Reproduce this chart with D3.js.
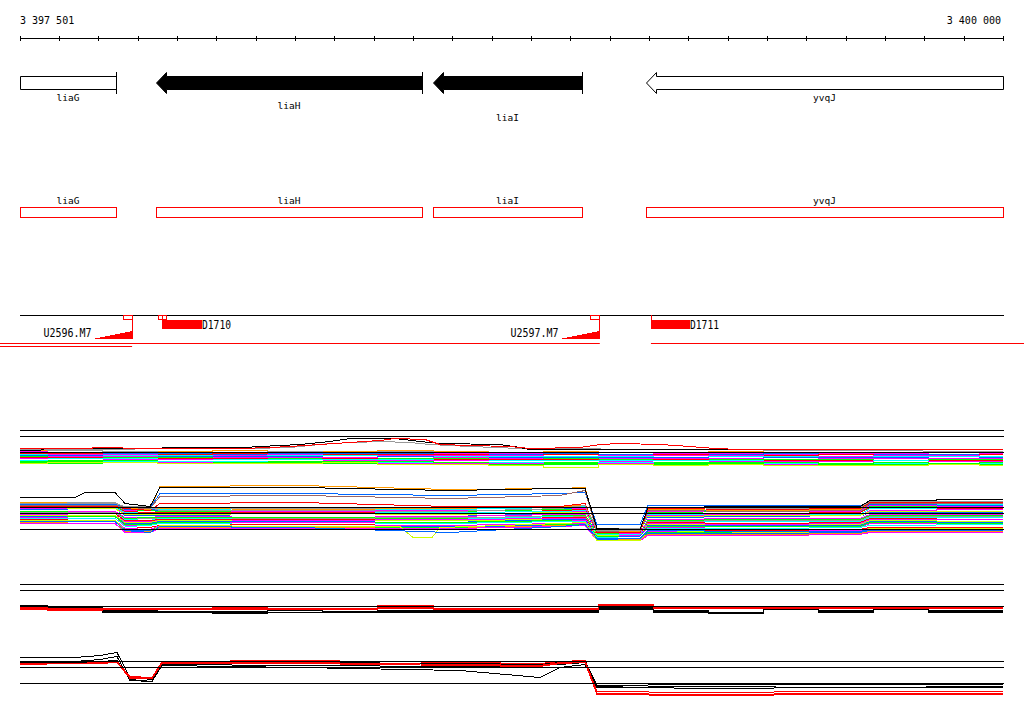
<!DOCTYPE html>
<html><head><meta charset="utf-8">
<script src="https://cdn.jsdelivr.net/npm/d3@7"></script>
<style>
body{margin:0;background:#fff}
svg{display:block}
text{font-family:"DejaVu Sans Mono",monospace;fill:#000}
</style>
</head><body>
<svg id="c" width="1024" height="714"></svg>
<script>
// ---------- data ----------
const START = 3397501, END = 3400000;
const axisLabels = [3397501, 3400000];
const tickStep = 100;

const genes      = ["liaG", "liaH", "liaI", "yvqJ"];
const geneLeft   = [3397040, 3397847, 3398551, 3399092];
const geneRight  = [3397745, 3398523, 3398930, 3400420];
const geneFilled = [false, true, true, false];

const upMarkers  = ["U2596.M7", "U2597.M7"];
const upPos      = [3397786, 3398973];
const dnMarkers  = ["D1710", "D1711"];
const dnStart    = [3397862, 3399105];
const dnEnd      = [3397964, 3399204];
const probeStart = [3397763, 3397852, 3397862, 3398950];
const probeEnd   = [3397786, 3397862, 3397872, 3398973];
const redSegStart = [3397450, 3399105, 3397450];
const redSegEnd   = [3398975, 3400055, 3397786];
const redSegRow   = [0, 0, 1];

const refLevels = [2.25, 1.6, 0];

// track A1 (upper profiles, panel 1)
const a1Pos = [3397501,3397641,3397781,3397921,3398061,3398201,3398341,3398481,3398621,3398761,3398901,3399041,3399181,3399321,3399461,3399601,3399741,3399881,3400000];
const a1Colors = ['#ff9900','#999999','#ff00ff','#0066ff','#ff0000','#ff00ff','#00ffff','#0066ff','#ff00ff','#00ff00','#ff0000','#00ffff','#ff00ff','#ffffff','#00ff00','#00ffff','#00ff00','#ff00ff','#00ff00','#ccff00'];
const a1Rows = [
 [.2,.2,.1,.1,.2,.1,.1,.2,.1,0,.1,0,0,.1,0,0,-.1,0,0],
 [.1,.2,.1,0,0,.1,0,.1,0,0,-.1,0,-.1,0,0,-.1,0,0,-.1],
 [.1,0,0,-.1,0,0,-.1,0,-.1,-.1,-.1,-.2,-.1,-.1,-.2,-.1,-.1,-.2,-.1],
 [0,-.1,-.1,-.1,-.2,-.1,-.1,-.1,-.2,-.2,-.1,-.2,-.2,-.2,-.1,-.2,-.2,-.2,-.2],
 [-.1,-.1,-.2,-.2,-.1,-.2,-.2,-.2,-.2,-.3,-.2,-.3,-.2,-.3,-.3,-.2,-.3,-.3,-.2],
 [-.2,-.2,-.2,-.3,-.3,-.2,-.3,-.3,-.3,-.3,-.4,-.3,-.3,-.3,-.4,-.4,-.3,-.3,-.4],
 [-.2,-.3,-.3,-.3,-.4,-.3,-.3,-.4,-.4,-.4,-.4,-.4,-.5,-.4,-.4,-.5,-.4,-.4,-.4],
 [-.3,-.3,-.4,-.4,-.4,-.4,-.5,-.4,-.5,-.5,-.5,-.5,-.5,-.6,-.5,-.5,-.5,-.6,-.5],
 [-.4,-.4,-.4,-.5,-.5,-.5,-.5,-.6,-.5,-.6,-.6,-.6,-.6,-.6,-.7,-.6,-.6,-.6,-.6],
 [-.4,-.5,-.5,-.5,-.6,-.6,-.6,-.6,-.6,-.7,-.6,-.7,-.7,-.7,-.7,-.7,-.8,-.7,-.7],
 [-.5,-.5,-.6,-.6,-.6,-.7,-.6,-.7,-.7,-.7,-.7,-.8,-.7,-.8,-.8,-.8,-.8,-.8,-.8],
 [-.6,-.6,-.6,-.7,-.7,-.7,-.7,-.7,-.8,-.8,-.8,-.8,-.8,-.8,-.9,-.9,-.8,-.9,-.9],
 [-.6,-.7,-.7,-.7,-.8,-.8,-.8,-.8,-.8,-.9,-.9,-.9,-.9,-.9,-.9,-.9,-1,-.9,-.9],
 [-.7,-.7,-.8,-.8,-.8,-.8,-.9,-.9,-.9,-.9,-.9,-1,-.9,-1,-1,-1,-1,-1,-1],
 [-.8,-.8,-.8,-.9,-.9,-.9,-.9,-.9,-1,-1,-1,-1,-1,-1,-1,-1.1,-1,-1.1,-1],
 [-.8,-.9,-.9,-.9,-.9,-1,-1,-1,-1,-1,-1.1,-1,-1.1,-1.1,-1.1,-1.1,-1.1,-1.1,-1.1],
 [-.9,-.9,-1,-1,-1,-1,-1,-1.1,-1,-1.1,-1.1,-1.1,-1.1,-1.1,-1.2,-1.1,-1.2,-1.1,-1.2],
 [-1,-1,-1,-1,-1.1,-1.1,-1.1,-1.1,-1.1,-1.1,-1.2,-1.1,-1.2,-1.2,-1.2,-1.2,-1.2,-1.2,-1.2],
 [-1,-1.1,-1,-1.1,-1.1,-1.1,-1.1,-1.2,-1.2,-1.2,-1.2,-1.2,-1.2,-1.2,-1.3,-1.2,-1.2,-1.2,-1.2],
 [-1.1,-1,-1,-1.1,-1.1,-1.1,-1,-1.2,-1.2,-1.3,-1.5,-1.2,-1.3,-1.2,-1.3,-1.3,-1.3,-1.2,-1.3]
];
const a1BlackPos = [3397501,3397552,3397565,3397857,3397870,3398073,3398111,3398213,3398289,3398340,3398454,3398518,3398569,3398721,3398772,3398798,3400000];
const a1BlackVal = [.2,.2,.4,.4,.5,.5,.6,.8,1.1,1.4,1.4,1.1,.9,.8,.5,.3,.3];
const a1RedPos = [3397501,3397679,3397692,3397832,3398060,3398137,3398187,3398416,3398454,3398531,3398569,3398645,3398747,3398798,3398925,3398976,3399026,3399128,3399204,3399268,3399331,3400000];
const a1RedVal = [.4,.4,.5,.4,.4,.5,.6,1.2,1.4,1.3,.8,.7,.6,.4,.5,.8,.9,.8,.6,.4,.3,.3];
const a1GrayPos = [3397501,3398086,3398187,3398289,3398416,3398493,3398543,3398645,3398772,3400000];
const a1GrayVal = [.3,.4,.5,.9,1.1,1.0,.8,.6,.4,.1];

// track A2 (lower profiles, panel 1)
const a2Pos = [3397501,3397743,3397768,3397832,3397857,3398213,3398594,3398874,3398937,3398968,3399077,3399098,3399382,3399636,3399662,3400000];
const a2Colors = ['#ff9900','#999999','#00ffff','#0066ff','#ff00ff','#00ff00','#ff0000','#00ffff','#ff00ff','#ccff00','#0066ff','#ffffff','#ff00ff','#00ff00','#999999','#00ffff','#ff0000','#ff00ff','#ccff00','#0066ff','#00ff00','#ff00ff','#00ffff','#ffffff','#ff0000','#ff00ff','#00ff00','#0066ff','#ff9900','#ff00ff'];
const a2Rows = [
 [2.7,2.6,2.3,2.2,2.1,2.0,2.1,2.3,2.4,0.1,0.0,2.2,2.1,2.2,2.8,2.7],
 [2.6,2.7,2.2,2.3,2.0,2.1,2.0,2.2,2.3,0.1,0.1,2.1,2.2,2.0,2.7,2.6],
 [2.5,2.6,2.1,2.1,2.0,1.9,2.0,2.2,2.3,0.0,0.0,2.0,1.9,2.0,2.6,2.5],
 [2.5,2.4,2.0,2.0,1.9,1.9,1.8,2.1,2.2,0.0,-0.1,1.9,1.9,1.9,2.5,2.4],
 [2.4,2.4,1.9,1.9,1.8,1.8,1.9,2.0,2.1,-0.1,-0.1,1.8,1.8,1.8,2.4,2.3],
 [2.3,2.4,1.8,1.9,1.8,1.7,1.8,2.0,2.0,-0.1,-0.2,1.7,1.8,1.7,2.3,2.2],
 [2.3,2.2,1.8,1.7,1.7,1.7,1.6,1.9,2.0,-0.2,-0.1,1.6,1.6,1.7,2.2,2.1],
 [2.2,2.2,1.7,1.6,1.6,1.6,1.7,1.8,1.9,-0.2,-0.2,1.5,1.6,1.5,2.1,2.0],
 [2.1,2.1,1.6,1.6,1.5,1.6,1.5,1.7,1.8,-0.2,-0.3,1.4,1.5,1.4,1.9,2.0],
 [2.0,2.1,1.5,1.5,1.5,1.4,1.5,1.7,1.7,-0.3,-0.3,1.3,1.4,1.4,1.8,1.8],
 [2.0,1.9,1.4,1.4,1.4,1.4,1.3,1.6,1.6,-0.3,-0.3,1.2,1.3,1.2,1.7,1.7],
 [1.9,1.9,1.3,1.3,1.3,1.4,1.3,1.5,1.6,-0.4,-0.3,1.1,1.2,1.2,1.6,1.6],
 [1.8,1.8,1.2,1.2,1.3,1.2,1.3,1.5,1.5,-0.4,-0.4,1.0,1.1,1.1,1.5,1.5],
 [1.8,1.7,1.1,1.2,1.2,1.2,1.1,1.4,1.4,-0.4,-0.5,0.9,1.0,1.0,1.4,1.4],
 [1.7,1.7,1.0,1.1,1.1,1.1,1.2,1.3,1.3,-0.5,-0.5,0.8,0.9,0.9,1.3,1.3],
 [1.6,1.6,1.0,0.9,1.1,1.0,1.0,1.3,1.2,-0.5,-0.5,0.7,0.8,0.8,1.2,1.2],
 [1.5,1.6,0.9,0.9,1.0,1.0,0.9,1.2,1.2,-0.6,-0.6,0.7,0.6,0.7,1.1,1.0],
 [1.5,1.4,0.8,0.8,0.9,0.9,1.0,1.1,1.1,-0.6,-0.6,0.6,0.5,0.6,1.0,1.0],
 [1.4,1.4,0.7,0.7,0.9,0.8,0.9,1.0,1.0,-0.6,-0.7,0.5,0.4,0.5,0.9,0.8],
 [1.3,1.3,0.6,0.6,0.8,0.8,0.7,1.0,1.0,-0.7,-0.7,0.4,0.4,0.4,0.8,0.7],
 [1.2,1.3,0.5,0.5,0.7,0.7,0.7,0.9,0.9,-0.7,-0.8,0.3,0.3,0.3,0.7,0.6],
 [1.2,1.1,0.4,0.4,0.6,0.7,0.6,0.8,0.9,-0.8,-0.8,0.2,0.1,0.2,0.6,0.5],
 [1.1,1.1,0.3,0.4,0.6,0.5,0.6,0.8,0.8,-0.8,-0.8,0.1,0.1,0.2,0.4,0.5],
 [1.0,1.0,0.2,0.3,0.5,0.5,0.4,0.7,0.7,-0.9,-0.8,0.0,0.0,0.1,0.3,0.4],
 [1.0,0.9,0.1,0.2,0.4,0.5,0.4,0.6,0.7,-0.9,-0.9,-0.1,-0.1,0.0,0.2,0.2],
 [0.9,0.9,0.1,0.0,0.4,0.3,0.4,0.6,0.6,-0.9,-1.0,-0.2,-0.2,-0.1,0.1,0.1],
 [0.8,0.8,0.0,-0.1,0.3,0.3,0.2,0.5,0.5,-1.0,-1.0,-0.3,-0.3,-0.2,0.0,0.0],
 [0.7,0.8,-0.1,-0.1,0.2,0.2,0.3,0.4,0.4,-1.0,-1.0,-0.4,-0.4,-0.3,-0.1,-0.1],
 [0.7,0.6,-0.2,-0.2,0.2,0.2,0.1,0.4,0.4,-1.1,-1.0,-0.5,-0.5,-0.4,-0.2,-0.2],
 [0.6,0.6,-0.3,-0.3,0.1,0.1,0.1,0.3,0.4,-1.1,-1.1,-0.6,-0.6,-0.5,-0.3,-0.3]
];
const a2TopColors = ['#ff9900','#0066ff','#996666','#ff0000','#999999','#0066ff'];
const a2TopRows = [
 [2.6,2.6,2.2,2.0,4.3,4.4,4.0,4.1,4.2,-0.1,-0.2,2.0,1.9,2.0,2.7,2.7],
 [2.5,2.5,2.3,2.2,3.6,3.6,3.4,3.6,3.7,0.5,0.5,2.4,2.4,2.4,2.7,2.7],
 [2.4,2.4,2.2,2.1,3.3,3.4,3.1,3.4,3.9,-0.2,-0.3,1.9,1.8,1.9,2.6,2.6],
 [2.3,2.3,2.1,1.9,2.6,2.7,2.3,2.3,2.6,-0.3,-0.3,2.1,2.0,2.1,2.7,2.7],
 [2.6,2.6,2.3,2.2,1.9,1.9,1.8,2.1,2.4,-0.1,-0.1,2.2,2.1,2.2,2.8,2.8],
 [0.8,0.8,-0.1,-0.3,0.3,0.2,-0.3,0.3,0.5,-0.9,-0.9,-0.1,-0.2,-0.2,0.0,0.0]
];
const a2BlackPos = [3397501,3397641,3397666,3397743,3397768,3397832,3397857,3398213,3398594,3398874,3398937,3398968,3399077,3399098,3399382,3399636,3399662,3400000];
const a2BlackVal = [3.2,3.2,3.7,3.7,2.6,2.3,4.2,4.2,3.9,4.1,4.1,0.1,0.0,2.2,2.3,2.3,2.9,3.0];
const a2YellowPos = [3397501,3397743,3397768,3397832,3397857,3398213,3398467,3398500,3398548,3398569,3398874,3398937,3398968,3399077,3399098,3399382,3399636,3399662,3400000];
const a2YellowVal = [0.9,0.9,-0.1,-0.3,0.4,0.3,0.3,-0.8,-0.8,0.2,0.6,0.7,-1.1,-1.1,-0.1,-0.3,-0.2,0.1,0.1];

// track B1 (upper profiles, panel 2)
const b1Colors = ['#000000','#000000','#000000','#ff0000','#ff0000','#ff0000'];
const b1Rows = [
 [.1,-.1,-.4,-.5,-.5,-.4,-.5,-.4,-.4,-.4,-.4,-.1,-.4,-.6,-.1,-.4,-.2,-.4,-.4],
 [0,-.3,-.5,-.6,-.6,-.6,-.6,-.5,-.5,-.5,-.5,-.2,-.5,-.7,-.2,-.5,-.2,-.5,-.5],
 [-.2,-.4,-.6,-.6,-.7,-.6,-.6,-.6,-.6,-.6,-.6,-.3,-.6,-.6,-.3,-.6,-.3,-.6,-.6],
 [-.1,-.2,-.2,-.2,-.1,-.2,-.2,.1,-.2,-.2,-.2,.2,-.1,-.1,-.1,-.1,-.1,-.1,-.1],
 [-.2,-.3,-.2,-.3,-.2,-.2,-.3,-.1,-.2,-.3,-.3,.1,-.1,-.2,-.1,-.2,-.1,-.1,-.2],
 [-.3,-.4,-.3,-.3,-.3,-.3,-.3,-.2,-.3,-.3,-.2,0,-.2,-.2,-.2,-.2,-.2,-.2,-.1]
];

// track B2 (lower profiles, panel 2)
const b2Pos = [3397501,3397641,3397704,3397748,3397781,3397837,3397862,3398213,3398620,3398823,3398874,3398937,3398968,3399230,3399611,3400000];
const b2Colors = ['#000000','#000000','#000000','#ff0000','#ff0000','#ff0000'];
const b2Rows = [
 [2.6,2.6,2.8,3.1,0.6,0.4,2.0,2.1,2.0,1.9,2.1,2.3,-0.2,-0.1,-0.1,-0.1],
 [2.2,2.2,2.4,2.7,0.3,0.2,1.9,1.8,1.7,1.8,1.9,2.1,-0.4,-0.3,-0.4,-0.4],
 [2.1,2.1,2.2,2.3,0.4,0.2,1.8,1.6,1.3,0.6,1.6,1.9,-0.3,-0.5,-0.4,-0.3],
 [2.2,2.2,2.2,2.2,0.7,0.6,2.2,2.3,2.1,2.0,2.2,2.3,-0.8,-0.9,-0.8,-0.8],
 [2.0,2.0,2.1,2.1,0.6,0.5,2.1,2.1,1.9,1.8,2.1,2.2,-1.0,-1.1,-1.0,-1.0],
 [1.9,2.0,2.0,2.1,0.5,0.5,2.0,2.0,1.8,1.7,2.0,2.1,-1.1,-1.2,-1.1,-1.1]
];

// ---------- drawing ----------
const svg = d3.select("#c");
const x = d3.scaleLinear().domain([START, END]).range([20, 1003]);
const fmt = d3.formatLocale({decimal: ".", thousands: " ", grouping: [3], currency: ["", ""]}).format(",d");

// ruler
const axisG = svg.append("g").attr("transform", "translate(0,35.5)");
const ticks = [START].concat(d3.range(Math.ceil(START / tickStep) * tickStep, END + 1, tickStep));
axisG.call(d3.axisBottom(x).tickValues(ticks).tickSize(5).tickFormat(""));
axisG.select(".domain").remove();
axisG.selectAll("line").attr("stroke", "#000").attr("shape-rendering", "crispEdges");
svg.append("line").attr("x1", x(START)).attr("x2", x(END)).attr("y1", 38.5).attr("y2", 38.5)
  .attr("stroke", "#000").attr("shape-rendering", "crispEdges");
svg.append("text").attr("x", x(axisLabels[0])).attr("y", 24).attr("font-size", 10).text(fmt(axisLabels[0]));
svg.append("text").attr("x", x(axisLabels[1]) - 2).attr("y", 24).attr("font-size", 10)
  .attr("text-anchor", "end").text(fmt(axisLabels[1]));

// gene arrows
const geneLabelY = [101, 109, 121, 101];
genes.forEach((name, i) => {
  const l = Math.max(geneLeft[i], START), r = Math.min(geneRight[i], END);
  const x0 = Math.round(x(l)) + 0.5, x1 = Math.round(x(r)) + 0.5;
  const head = 10, yT = 76.5, yB = 89.5, hT = 72.5, hB = 93.5, yc = 83;
  const pts = geneLeft[i] >= START
    ? [[x0, yc], [x0 + head, hT], [x0 + head, yT], [x1, yT], [x1, yB], [x0 + head, yB], [x0 + head, hB]]
    : [[x0, yT], [x1, yT], [x1, yB], [x0, yB]];
  svg.append("polygon").attr("points", pts.map(p => p.join(",")).join(" "))
    .attr("fill", geneFilled[i] ? "#000" : "#fff").attr("stroke", "#000");
  if (geneRight[i] <= END) {
    svg.append("line").attr("x1", x1).attr("x2", x1).attr("y1", 72).attr("y2", 94).attr("stroke", "#000");
  }
  svg.append("text").attr("x", (x(l) + x(r)) / 2).attr("y", geneLabelY[i]).attr("font-size", 9.5)
    .attr("text-anchor", "middle").text(name);
  // red feature track
  svg.append("rect").attr("x", x0).attr("y", 207.5).attr("width", x1 - x0).attr("height", 10)
    .attr("fill", "none").attr("stroke", "#ff0000");
  svg.append("text").attr("x", (x(l) + x(r)) / 2).attr("y", 204).attr("font-size", 9.5)
    .attr("text-anchor", "middle").text(name);
});

// marker track
svg.append("line").attr("x1", x(START)).attr("x2", x(END) + 1).attr("y1", 315.5).attr("y2", 315.5).attr("stroke", "#000");
redSegStart.forEach((s, i) => {
  const yy = redSegRow[i] ? 346.5 : 343.5;
  svg.append("line").attr("x1", x(s)).attr("x2", x(redSegEnd[i])).attr("y1", yy).attr("y2", yy).attr("stroke", "#ff0000");
});
probeStart.forEach((s, i) => {
  svg.append("rect").attr("x", Math.round(x(s)) + 0.5).attr("y", 315.5)
    .attr("width", Math.round(x(probeEnd[i])) - Math.round(x(s))).attr("height", 4)
    .attr("fill", "none").attr("stroke", "#ff0000");
});
upMarkers.forEach((name, i) => {
  const xr = Math.round(x(upPos[i])) + 0.5;
  svg.append("line").attr("x1", xr).attr("x2", xr).attr("y1", 315).attr("y2", 339).attr("stroke", "#ff0000");
  svg.append("polygon").attr("points", [[xr - 40, 339], [xr, 339], [xr, 331]].map(p => p.join(",")).join(" "))
    .attr("fill", "#ff0000").attr("shape-rendering", "crispEdges");
  svg.append("text").attr("x", xr - 41).attr("y", 337).attr("font-size", 12.5).attr("text-anchor", "end")
    .attr("textLength", 48).attr("lengthAdjust", "spacingAndGlyphs").text(name);
});
dnMarkers.forEach((name, i) => {
  const xs = Math.round(x(dnStart[i])), xe = Math.round(x(dnEnd[i]));
  svg.append("line").attr("x1", xs + 0.5).attr("x2", xs + 0.5).attr("y1", 315).attr("y2", 320).attr("stroke", "#ff0000");
  svg.append("rect").attr("x", xs).attr("y", 319.5).attr("width", xe - xs).attr("height", 9.5)
    .attr("fill", "#ff0000").attr("shape-rendering", "crispEdges");
  svg.append("text").attr("x", xe).attr("y", 328.5).attr("font-size", 12)
    .attr("textLength", 29).attr("lengthAdjust", "spacingAndGlyphs").text(name);
});

// profile tracks
const trackBase = [452, 529, 606, 683];
function yScale(t) { return d3.scaleLinear().domain([0, 1]).range([trackBase[t] + 0.5, trackBase[t] - 9.5]); }
function drawSeries(t, pos, vals, color, curve) {
  const ys = yScale(t);
  const line = d3.line().x((d, i) => Math.round(x(pos[i]))).y(d => ys(d)).curve(curve);
  svg.append("path").attr("d", line(vals)).attr("fill", "none").attr("stroke", color)
    .attr("stroke-width", 1).attr("shape-rendering", "crispEdges");
}
// A1
a1Rows.forEach((r, i) => drawSeries(0, a1Pos, r, a1Colors[i], d3.curveStep));
drawSeries(0, a1GrayPos, a1GrayVal, "#999999", d3.curveLinear);
drawSeries(0, a1BlackPos, a1BlackVal, "#000000", d3.curveLinear);
drawSeries(0, a1RedPos, a1RedVal, "#ff0000", d3.curveLinear);
// A2
a2Rows.forEach((r, i) => drawSeries(1, a2Pos, r, a2Colors[i], d3.curveLinear));
drawSeries(1, a2YellowPos, a2YellowVal, "#ccff00", d3.curveLinear);
a2TopRows.forEach((r, i) => drawSeries(1, a2Pos, r, a2TopColors[i], d3.curveLinear));
drawSeries(1, a2BlackPos, a2BlackVal, "#000000", d3.curveLinear);
// B1
b1Rows.forEach((r, i) => drawSeries(2, a1Pos, r, b1Colors[i], d3.curveStep));
// B2
b2Rows.forEach((r, i) => drawSeries(3, b2Pos, r, b2Colors[i], d3.curveLinear));

// reference lines
trackBase.forEach((b, t) => {
  const ys = yScale(t);
  refLevels.forEach(v => {
    svg.append("line").attr("x1", x(START)).attr("x2", x(END) + 1).attr("y1", ys(v)).attr("y2", ys(v))
      .attr("stroke", "#000").attr("shape-rendering", "crispEdges");
  });
});
</script>
</body></html>
